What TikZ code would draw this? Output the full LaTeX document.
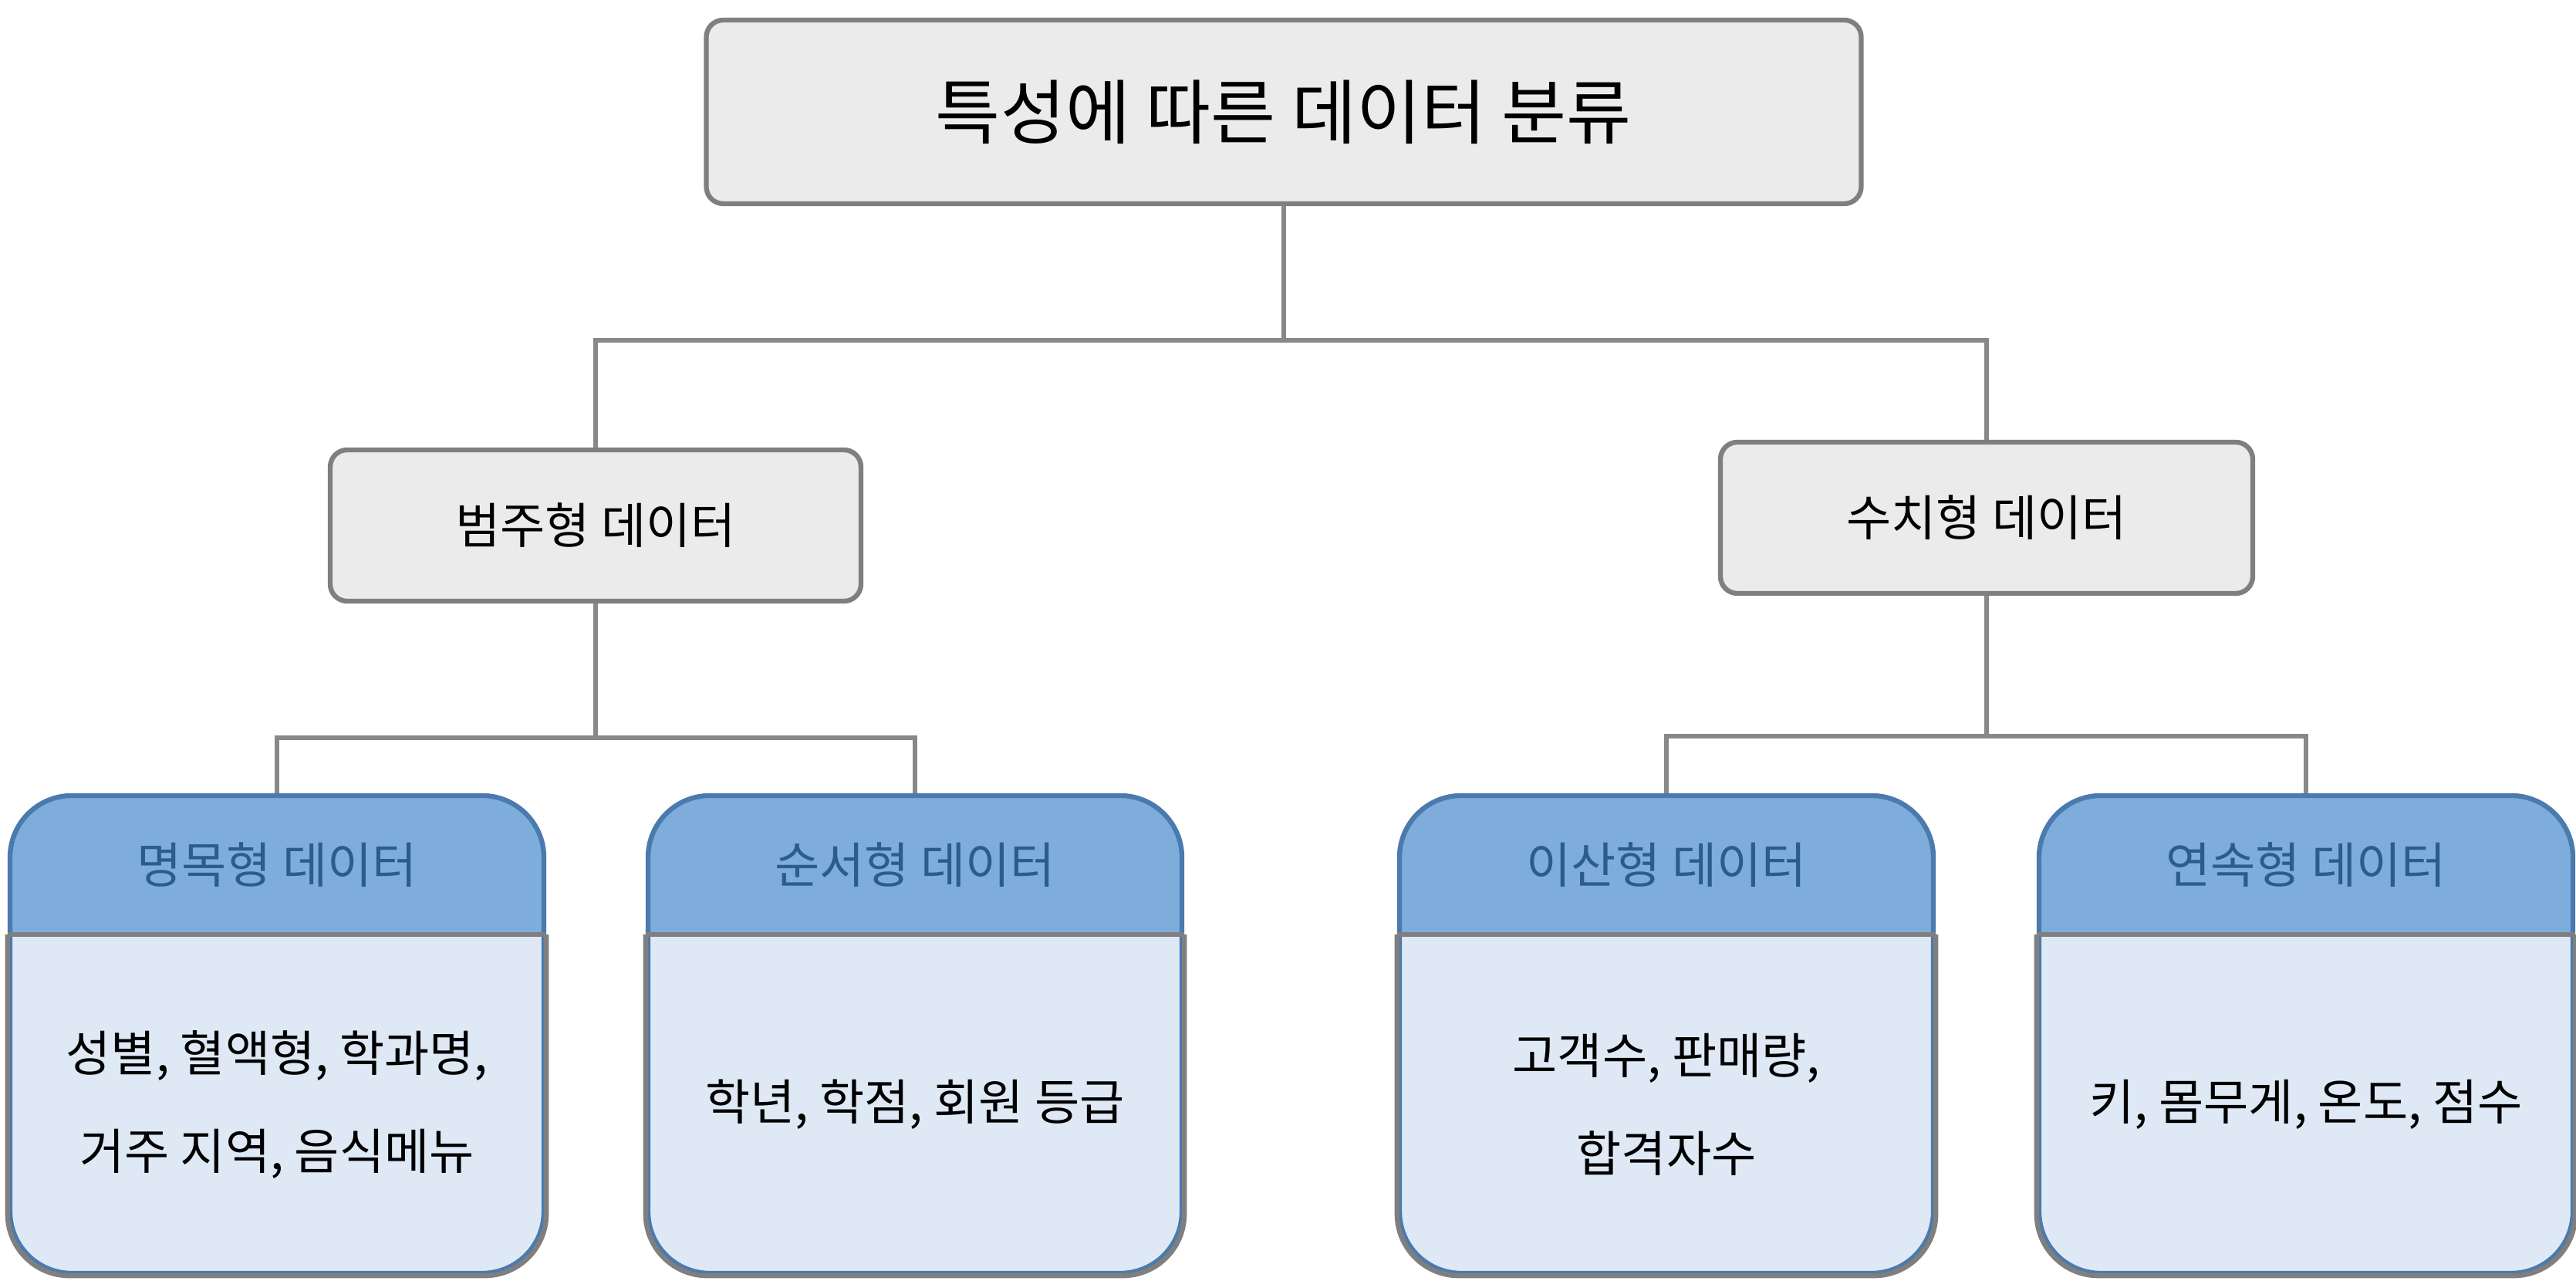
\documentclass[tikz,border=0pt]{standalone}
\usepackage{fontspec}
\setmainfont{Noto Sans CJK KR}
\usetikzlibrary{positioning,calc}

\definecolor{boxgray}{HTML}{EBEBEB}
\definecolor{edgegray}{HTML}{7F7F7F}
\definecolor{linegray}{HTML}{888888}
\definecolor{hdblue}{HTML}{7EADDB}
\definecolor{hdedge}{HTML}{4A7AAE}
\definecolor{hdtext}{HTML}{2C5C8C}
\definecolor{bodyblue}{HTML}{DEE9F5}

\begin{document}
\begin{tikzpicture}[
	x=1cm,y=1cm,
	every node/.style={font=\fontsize{18}{36}\selectfont},
	graybox/.style={draw=edgegray, fill=boxgray, line width=1.8pt, rounded corners=0.22cm},
	card/.style={draw=hdedge, fill=bodyblue, line width=1.8pt, rounded corners=0.8cm,
		minimum width=6.92cm, minimum height=6.19cm,
		path picture={\fill[hdblue, sharp corners] (path picture bounding box.north west) rectangle ([yshift=-1.83cm]path picture bounding box.north east);}},
	conn/.style={draw=linegray, line width=1.8pt}
	]
	\useasboundingbox (0,0) rectangle (33.39,16.59);
	
	% --------------------------
	% Top: root and the two groups
	% --------------------------
	\node[graybox, minimum width=14.97cm, minimum height=2.38cm, font=\fontsize{26}{30}\selectfont] (root) at (16.64,15.14) {특성에 따른 데이터 분류};
	
	\node[graybox, minimum width=6.88cm, minimum height=1.96cm] (cat) at (7.72,9.78) {범주형 데이터};
	\node[graybox, minimum width=6.90cm, minimum height=1.96cm] (num) at (25.75,9.88) {수치형 데이터};
	
	\coordinate (bus1) at (16.64,12.18);
	\draw[conn] (root.south) -- (bus1) -| (cat.north);
	\draw[conn] (bus1) -| (num.north);
	
	% --------------------------
	% Bottom: four cards
	% --------------------------
	\node[card] (nom) at (3.59,3.185) {};
	\node[card] (ord) at (11.86,3.185) {};
	\node[card] (dis) at (21.60,3.185) {};
	\node[card] (con) at (29.89,3.185) {};
	
	% body outlines and dividers
	\foreach \c in {nom,ord,dis,con} {
		\draw[draw=edgegray, line width=1.8pt, rounded corners=0.8cm]
			([yshift=-1.83cm]\c.north west) -- (\c.south west) -- (\c.south east) -- ([yshift=-1.83cm]\c.north east);
		\draw[draw=edgegray, line width=1.8pt]
			([yshift=-1.83cm]\c.north west) -- ([yshift=-1.83cm]\c.north east);
	}
	
	% headers
	\node[text=hdtext] (nomh) at ([yshift=-0.93cm]nom.north) {명목형 데이터};
	\node[text=hdtext] (ordh) at ([yshift=-0.93cm]ord.north) {순서형 데이터};
	\node[text=hdtext] (dish) at ([yshift=-0.93cm]dis.north) {이산형 데이터};
	\node[text=hdtext] (conh) at ([yshift=-0.93cm]con.north) {연속형 데이터};
	
	% examples
	\node[align=center] (nomb) at ([yshift=-0.91cm]nom.center) {성별, 혈액형, 학과명,\\거주 지역, 음식메뉴};
	\node[align=center] (ordb) at ([yshift=-0.91cm]ord.center) {학년, 학점, 회원 등급};
	\node[align=center] (disb) at ([yshift=-0.91cm]dis.center) {고객수, 판매량,\\합격자수};
	\node[align=center] (conb) at ([yshift=-0.91cm]con.center) {키, 몸무게, 온도, 점수};
	
	% connectors
	\coordinate (bus2) at (7.72,7.03);
	\draw[conn] (cat.south) -- (bus2) -| (nom.north);
	\draw[conn] (bus2) -| (ord.north);
	
	\coordinate (bus3) at (25.75,7.05);
	\draw[conn] (num.south) -- (bus3) -| (dis.north);
	\draw[conn] (bus3) -| (con.north);
	
\end{tikzpicture}
\end{document}
